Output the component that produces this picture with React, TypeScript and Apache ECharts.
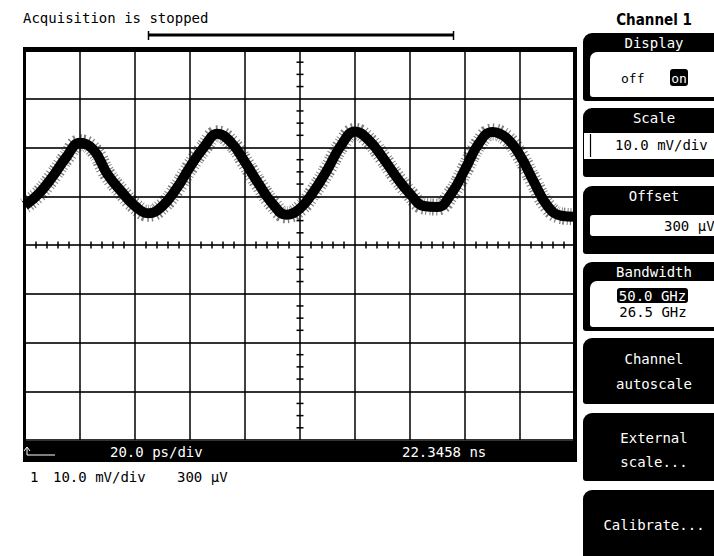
import React, { useEffect, useRef } from "react";
import * as echarts from "echarts";

// Time axis (ps from left edge of screen, 20 ps/div) and trace voltage (mV, 10 mV/div)
const timePs = [0, 5, 10, 15, 20, 25, 30, 35, 40, 45, 50, 55, 60, 65, 70, 75, 80, 85, 90, 95, 100, 105, 110, 115, 120, 125, 130, 135, 140, 145, 150, 155, 160, 165, 170, 175, 180, 185, 190, 195, 200];
const traceMv = [8.1, 10.5, 14.0, 18.0, 21.0, 19.5, 14.5, 11.0, 8.0, 6.5, 8.0, 11.5, 16.0, 20.0, 22.8, 21.0, 17.0, 12.5, 8.5, 6.2, 7.5, 11.0, 15.5, 20.5, 23.3, 21.5, 18.0, 14.0, 10.5, 8.0, 7.8, 10.5, 15.5, 20.8, 23.2, 22.0, 18.4, 13.0, 8.0, 6.0, 5.8];

// Center graticule minor tick positions
const xMinorTicks = [4, 8, 12, 16, 24, 28, 32, 36, 44, 48, 52, 56, 64, 68, 72, 76, 84, 88, 92, 96, 104, 108, 112, 116, 124, 128, 132, 136, 144, 148, 152, 156, 164, 168, 172, 176, 184, 188, 192, 196];
const yMinorTicks = [-37.5, -35, -32.5, -27.5, -25, -22.5, -17.5, -15, -12.5, -7.5, -5, -2.5, 2.5, 5, 7.5, 12.5, 15, 17.5, 22.5, 25, 27.5, 32.5, 35, 37.5];

const statusText = "Acquisition is stopped";
const menuTitle = "Channel 1";
const timebaseText = "20.0 ps/div";
const delayText = "22.3458 ns";
const chanNum = "1";
const chanScale = "10.0 mV/div";
const chanOffset = "300 µV";

const MONO = '"DejaVu Sans Mono", monospace';

function txt(text: string, x: number, y: number, fill: string, align = "left", size = 14, family = MONO, weight = "normal") {
  return {
    type: "text",
    x,
    y,
    z: 120,
    silent: true,
    style: {
      text,
      fill,
      font: `${weight} ${size}px ${family}`,
      textAlign: align,
      align,
      textVerticalAlign: "middle",
      verticalAlign: "middle",
    },
  };
}

function rect(x: number, y: number, w: number, h: number, fill: string, r: any = 0, z = 110) {
  return { type: "rect", z, silent: true, shape: { x, y, width: w, height: h, r }, style: { fill } };
}

function line(x1: number, y1: number, x2: number, y2: number, stroke: string, w: number, z = 115) {
  return { type: "line", z, silent: true, shape: { x1, y1, x2, y2 }, style: { stroke, lineWidth: w } };
}

export default function App() {
  const ref = useRef<HTMLDivElement>(null);
  useEffect(() => {
    if (!ref.current) return;
    const chart = echarts.init(ref.current, undefined, { renderer: "svg" });
    const pts = timePs.map((t, i) => [t, traceMv[i]]);

    const panels = [
      [33, 101],
      [108, 177],
      [186, 254],
      [262, 331],
      [338, 404],
      [413, 481],
      [490, 580],
    ];
    const PX = 583;
    const PW = 140;
    const CX = 654;

    const graphic: any[] = [];
    // frame
    graphic.push(rect(23, 47, 554, 5, "#000"));
    graphic.push(rect(23, 47, 3, 395, "#000"));
    graphic.push(rect(573, 47, 4, 395, "#000"));
    graphic.push(rect(23, 441, 554, 21, "#000"));
    // bottom bar texts
    graphic.push({
      type: "polyline",
      z: 120,
      silent: true,
      shape: { points: [[27, 448], [27, 455], [55, 455]] },
      style: { stroke: "#fff", lineWidth: 1, fill: null },
    });
    graphic.push({
      type: "polyline",
      z: 120,
      silent: true,
      shape: { points: [[24, 451], [27, 447], [30, 451]] },
      style: { stroke: "#fff", lineWidth: 1, fill: null },
    });
    graphic.push(txt(timebaseText, 110, 452, "#fff"));
    graphic.push(txt(delayText, 402, 452, "#fff"));
    // channel info line
    graphic.push(txt(chanNum, 30, 477, "#000"));
    graphic.push(txt(chanScale, 53, 477, "#000"));
    graphic.push(txt(chanOffset, 177, 477, "#000"));
    // status
    graphic.push(txt(statusText, 23, 18, "#000"));
    // horizontal memory bar
    graphic.push(line(148, 35, 454, 35, "#000", 3));
    graphic.push(line(148.5, 31, 148.5, 40, "#000", 1.5));
    graphic.push(line(453.5, 31, 453.5, 40, "#000", 1.5));
    // menu title
    graphic.push(txt(menuTitle, CX, 20, "#000", "center", 15, '"DejaVu Sans Condensed", "DejaVu Sans", sans-serif', "bold"));
    // panels
    panels.forEach(([t, b]) => graphic.push(rect(PX, t, PW, b - t, "#000", [9, 0, 0, 3])));
    // Display
    graphic.push(txt("Display", CX, 43, "#fff", "center"));
    graphic.push(rect(590, 52, 130, 45, "#fff", [7, 0, 0, 3], 112));
    graphic.push(txt("off", 621, 78, "#000", "left", 13));
    graphic.push(rect(670, 69, 18, 17, "#000", 3, 114));
    graphic.push(txt("on", 679, 78, "#fff", "center", 13));
    // Scale
    graphic.push(txt("Scale", CX, 118, "#fff", "center"));
    graphic.push(rect(584, 133, 136, 26, "#fff", 0, 112));
    graphic.push(line(590.5, 134, 590.5, 157, "#000", 1.2));
    graphic.push(txt("10.0 mV/div", 615, 145, "#000"));
    // Offset
    graphic.push(txt("Offset", CX, 196, "#fff", "center"));
    graphic.push(rect(590, 215, 130, 21, "#fff", [3, 0, 0, 3], 112));
    graphic.push(txt("300 µV", 664, 226, "#000"));
    // Bandwidth
    graphic.push(txt("Bandwidth", CX, 272, "#fff", "center"));
    graphic.push(rect(590, 281, 130, 46, "#fff", [7, 0, 0, 3], 112));
    graphic.push(rect(617, 288, 71, 15, "#000", 3, 114));
    graphic.push(txt("50.0 GHz", 652.5, 295.5, "#fff", "center"));
    graphic.push(txt("26.5 GHz", 653, 312, "#000", "center"));
    // Channel autoscale
    graphic.push(txt("Channel", CX, 359, "#fff", "center"));
    graphic.push(txt("autoscale", CX, 384, "#fff", "center"));
    // External scale
    graphic.push(txt("External", CX, 438, "#fff", "center"));
    graphic.push(txt("scale...", CX, 462, "#fff", "center"));
    // Calibrate
    graphic.push(txt("Calibrate...", CX, 525, "#fff", "center"));

    const option: any = {
      animation: false,
      backgroundColor: "#fff",
      grid: { left: 25, top: 50, width: 550, height: 390, show: false },
      xAxis: {
        type: "value",
        min: 0,
        max: 200,
        interval: 20,
        axisLine: { show: false },
        axisTick: { show: false },
        axisLabel: { show: false },
        splitLine: { show: true, lineStyle: { color: "#000", width: 1.5 } },
      },
      yAxis: {
        type: "value",
        min: -40,
        max: 40,
        interval: 10,
        axisLine: { show: false },
        axisTick: { show: false },
        axisLabel: { show: false },
        splitLine: { show: true, lineStyle: { color: "#333", width: 2 } },
      },
      series: [
        {
          type: "line",
          data: pts,
          smooth: 0.45,
          symbol: "none",
          lineStyle: { color: "rgba(0,0,0,0.5)", width: 17, type: [1, 3, 1, 1.5, 1.5, 2.5, 1, 2] },
          z: 2,
        },
        {
          type: "line",
          data: pts,
          smooth: 0.45,
          symbol: "none",
          lineStyle: { color: "#000", width: 10 },
          z: 3,
        },
        {
          type: "custom",
          data: xMinorTicks.map((t) => [t, 0]),
          z: 4,
          renderItem: (params: any, api: any) => {
            const p = api.coord([api.value(0), 0]);
            return {
              type: "line",
              shape: { x1: p[0], y1: p[1] - 3.5, x2: p[0], y2: p[1] + 3.5 },
              style: { stroke: "#000", lineWidth: 1.5 },
            };
          },
        },
        {
          type: "custom",
          data: yMinorTicks.map((v) => [100, v]),
          z: 4,
          renderItem: (params: any, api: any) => {
            const p = api.coord([100, api.value(1)]);
            return {
              type: "line",
              shape: { x1: p[0] - 3.5, y1: p[1], x2: p[0] + 3.5, y2: p[1] },
              style: { stroke: "#000", lineWidth: 1.5 },
            };
          },
        },
      ],
      graphic,
    };
    chart.setOption(option);
    return () => chart.dispose();
  }, []);
  return (
    <div
      ref={ref}
      style={{ position: "fixed", left: 0, top: 0, width: 714, height: 556, background: "#fff" }}
    />
  );
}
